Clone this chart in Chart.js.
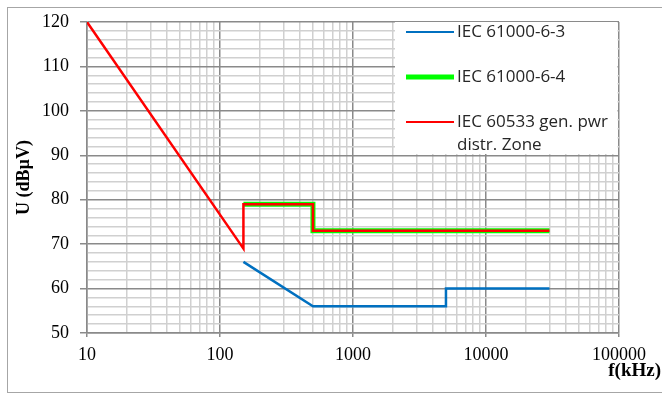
<!DOCTYPE html>
<html>
<head>
<meta charset="utf-8">
<script src="https://cdn.jsdelivr.net/npm/chart.js@4.4.0/dist/chart.umd.min.js"></script>
<style>
  html, body { margin: 0; padding: 0; background: #fff; }
</style>
</head>
<body>
<canvas id="emcChart" width="662" height="394"></canvas>
<script>
// frequency decades (kHz) and level ticks (dBµV)
const freqTicks = [10, 100, 1000, 10000, 100000];
const levelTicks = [50, 60, 70, 80, 90, 100, 110, 120];

// IEC 61000-6-3
const iec6_3Freq = [150, 500, 5000, 5000, 30000];
const iec6_3Level = [66, 56, 56, 60, 60];
// IEC 61000-6-4
const iec6_4Freq = [150, 500, 500, 30000];
const iec6_4Level = [79, 79, 73, 73];
// IEC 60533 general power distribution zone
const iec60533Freq = [10, 150, 150, 500, 500, 30000];
const iec60533Level = [120, 69, 79, 79, 73, 73];

function toPoints(xs, ys) {
    return xs.map((x, i) => ({ x: x, y: ys[i] }));
}

const majorGrid = '#8a8a8a';
const minorGrid = '#d0d0d0';

function isMajorFreq(v) { return freqTicks.includes(v); }
function isMajorLevel(v) { return levelTicks.includes(v); }

// white legend panel drawn over the grid, plus frame and x title
const extras = {
    id: 'extras',
    beforeDatasetsDraw(chart) {
        const ctx = chart.ctx;
        const area = chart.chartArea;
        ctx.save();
        ctx.fillStyle = '#fff';
        ctx.fillRect(395, area.top, area.right - 1.5 - 395, 132);
        ctx.restore();
    },
    afterDraw(chart) {
        const ctx = chart.ctx;
        ctx.save();
        // legend entries
        ctx.font = '17px "Open Sans"';
        ctx.textBaseline = 'middle';
        ctx.textAlign = 'left';
        const rows = [32, 77, 122];
        chart.data.datasets.forEach((ds, i) => {
            const y = rows[i];
            ctx.strokeStyle = ds.borderColor;
            ctx.lineWidth = ds.legendWidth;
            ctx.beginPath();
            ctx.moveTo(406, y);
            ctx.lineTo(454, y);
            ctx.stroke();
            ctx.fillStyle = '#262626';
            const lines = Array.isArray(ds.label) ? ds.label : [ds.label];
            lines.forEach((t, k) => ctx.fillText(t, 457, y + k * 23));
        });
        // x axis title
        ctx.font = 'bold 19px "Liberation Serif"';
        ctx.fillStyle = '#000';
        ctx.textAlign = 'right';
        ctx.fillText('f(kHz)', 661, 371);
        // outer frame
        ctx.strokeStyle = '#a6a6a6';
        ctx.lineWidth = 1;
        ctx.strokeRect(7.5, 7.5, 670, 385);
        ctx.restore();
    }
};

const ctx = document.getElementById('emcChart').getContext('2d');
new Chart(ctx, {
    type: 'line',
    data: {
        datasets: [
            {
                label: 'IEC 61000-6-3',
                data: toPoints(iec6_3Freq, iec6_3Level),
                borderColor: '#0070c0',
                borderWidth: 2.5,
                legendWidth: 2,
                order: 2
            },
            {
                label: 'IEC 61000-6-4',
                data: toPoints(iec6_4Freq, iec6_4Level),
                borderColor: '#00ff00',
                borderWidth: 5,
                legendWidth: 5,
                order: 1
            },
            {
                label: ['IEC 60533 gen. pwr', 'distr. Zone'],
                data: toPoints(iec60533Freq, iec60533Level),
                borderColor: '#ff0000',
                borderWidth: 2.5,
                legendWidth: 2,
                order: 0
            }
        ]
    },
    options: {
        responsive: false,
        animation: false,
        layout: { padding: { top: 22, right: 43, left: 0, bottom: 0 } },
        elements: {
            point: { radius: 0, hoverRadius: 0 },
            line: { tension: 0, fill: false }
        },
        plugins: {
            legend: { display: false },
            tooltip: { enabled: false }
        },
        scales: {
            x: {
                type: 'logarithmic',
                min: 10,
                max: 100000,
                afterBuildTicks(scale) {
                    const t = [];
                    for (let d = 0; d < freqTicks.length - 1; d++) {
                        for (let m = 1; m < 10; m++) t.push({ value: freqTicks[d] * m });
                    }
                    t.push({ value: freqTicks[freqTicks.length - 1] });
                    scale.ticks = t;
                },
                afterFit(scale) { scale.height = 61; },
                ticks: {
                    autoSkip: false,
                    maxRotation: 0,
                    padding: 7,
                    color: '#000',
                    font: { family: 'Liberation Serif', size: 18 },
                    callback: (v) => isMajorFreq(v) ? String(v) : ''
                },
                grid: {
                    color: (c) => c.tick && isMajorFreq(c.tick.value) ? majorGrid : minorGrid,
                    tickColor: (c) => c.tick && isMajorFreq(c.tick.value) ? majorGrid : 'rgba(0,0,0,0)',
                    lineWidth: 1.5,
                    tickLength: 4
                },
                border: { color: majorGrid, width: 1.5 }
            },
            y: {
                min: 50,
                max: 120,
                afterFit(scale) { scale.width = 87; },
                ticks: {
                    stepSize: 2,
                    autoSkip: false,
                    padding: 11,
                    color: '#000',
                    font: { family: 'Liberation Serif', size: 18 },
                    callback: (v) => isMajorLevel(v) ? String(v) : ''
                },
                grid: {
                    color: (c) => c.tick && isMajorLevel(c.tick.value) ? majorGrid : minorGrid,
                    tickColor: (c) => c.tick && isMajorLevel(c.tick.value) ? majorGrid : 'rgba(0,0,0,0)',
                    lineWidth: 1.5,
                    tickLength: 7
                },
                border: { color: majorGrid, width: 1.5 },
                title: {
                    display: true,
                    text: 'U (dBµV)',
                    color: '#000',
                    font: { family: 'Liberation Serif', size: 18, weight: 'bold' },
                    padding: { top: 14 }
                }
            }
        }
    },
    plugins: [extras]
});
</script>
</body>
</html>
